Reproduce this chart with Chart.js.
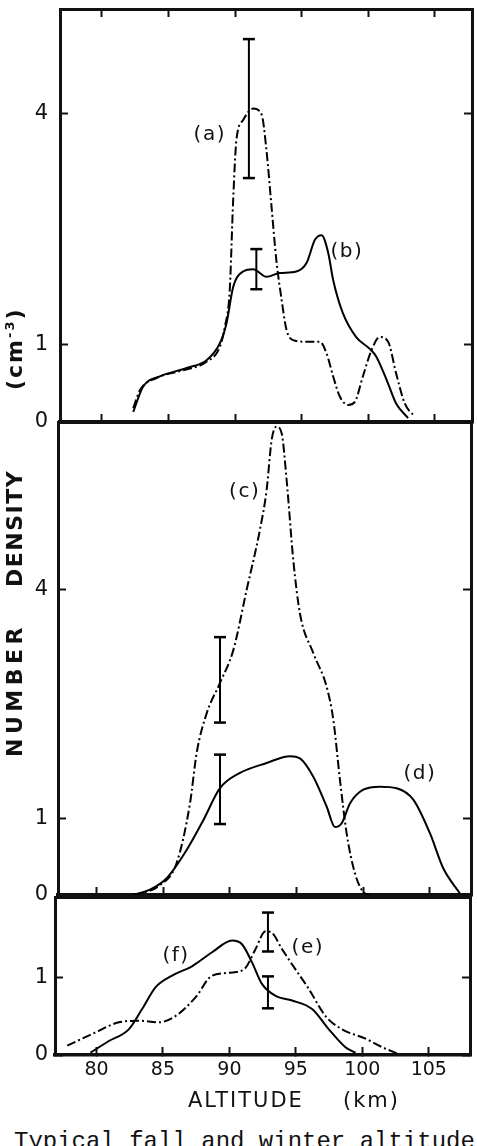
<!DOCTYPE html>
<html>
<head>
<meta charset="utf-8">
<script src="https://cdn.jsdelivr.net/npm/chart.js@4.4.1/dist/chart.umd.min.js"></script>
<style>
  body { margin: 0; background: #fff; width: 477px; height: 1146px; overflow: hidden; position: relative; }
  canvas { position: absolute; left: 0; }
  .txt { position: absolute; white-space: pre; color: #111; }
  #ytitle { left: 4px; top: 757px; width: 460px; height: 22px; transform-origin: 0 0; transform: rotate(-90deg);
            font: bold 22px "DejaVu Sans"; line-height: 22px; }
  #ytitle span { position: absolute; top: 0; }
  #ytitle sup { font-size: 13px; vertical-align: 8px; line-height: 0; }
  .xt { top: 1090px; font: 21px "DejaVu Sans"; line-height: 21px; letter-spacing: 2px; }
  #caption { left: 14px; top: 1130px; font: 24px "Liberation Mono"; line-height: 24px; }
</style>
</head>
<body>
<canvas id="panelA" width="477" height="440" style="top:0px"></canvas>
<canvas id="panelB" width="477" height="500" style="top:410px"></canvas>
<canvas id="panelC" width="477" height="210" style="top:880px"></canvas>

<div class="txt" id="ytitle"><span style="left:0px;letter-spacing:4.5px">NUMBER</span><span style="left:170px;letter-spacing:1.5px">DENSITY</span><span style="left:367px;letter-spacing:2px">(cm<sup>-3</sup>)</span></div>
<div class="txt xt" style="left:188px">ALTITUDE</div>
<div class="txt xt" style="left:343px">(km)</div>
<div class="txt" id="caption">Typical fall and winter altitude</div>

<script>
// tick values
var altTicks = [80, 85, 90, 95, 100, 105];
var densTicksA = [0, 1, 4];
var densTicksB = [0, 1, 4];
var densTicksC = [0, 1];

// panel 1: curve (a) dash-dot, curve (b) solid  (altitude km / density cm-3)
var altA  = [82.35, 82.85, 84.1, 86.1, 87.86, 88.86, 89.23, 89.6, 89.86, 90.1, 90.6, 91.36, 92.0, 92.36, 92.74, 93.1, 93.5, 93.87, 94.36, 95.37, 96.37, 96.87, 97.37, 97.87, 98.5, 99.0, 99.6, 100.25, 100.87, 101.5, 102.1, 102.75, 103.5];
var densA = [0.18, 0.41, 0.57, 0.67, 0.78, 0.975, 1.23, 1.71, 2.88, 3.65, 3.91, 4.06, 3.98, 3.52, 2.79, 2.10, 1.58, 1.19, 1.06, 1.04, 1.04, 0.89, 0.59, 0.33, 0.22, 0.26, 0.59, 0.93, 1.10, 1.04, 0.63, 0.24, 0.07];
var altB  = [82.35, 83.1, 84.35, 86.36, 87.86, 88.86, 89.36, 89.86, 90.6, 91.36, 92.36, 93.36, 94.6, 95.37, 96.0, 96.5, 97.0, 97.37, 98.1, 99.1, 100.1, 100.6, 101.4, 102.1, 103.0];
var densB = [0.13, 0.46, 0.59, 0.70, 0.80, 1.02, 1.28, 1.75, 1.95, 1.98, 1.88, 1.93, 1.95, 2.06, 2.36, 2.42, 2.19, 1.84, 1.41, 1.10, 0.95, 0.85, 0.54, 0.24, 0.05];

// panel 2: curve (c) dash-dot, curve (d) solid
var altC  = [82.75, 84.75, 86.0, 87.0, 87.5, 88.25, 89.25, 90.25, 91.25, 92.25, 92.75, 93.13, 93.5, 93.88, 94.25, 94.75, 95.25, 96.25, 97.25, 97.75, 98.25, 98.75, 99.38, 100.0, 100.5];
var densC = [0, 0.13, 0.42, 1.20, 1.86, 2.38, 2.78, 3.21, 4.0, 4.79, 5.31, 5.97, 6.14, 6.05, 5.44, 4.39, 3.69, 3.17, 2.73, 2.30, 1.51, 0.81, 0.28, 0.04, 0];
var altD  = [82.75, 84.0, 85.25, 86.75, 88.0, 89.25, 90.75, 92.75, 94.5, 95.25, 96.25, 97.25, 97.88, 98.38, 99.0, 100.0, 101.25, 102.5, 103.75, 105.0, 106.0, 107.25];
var densD = [0, 0.07, 0.22, 0.59, 0.98, 1.40, 1.60, 1.73, 1.82, 1.79, 1.55, 1.16, 0.89, 0.94, 1.20, 1.38, 1.42, 1.40, 1.25, 0.81, 0.35, 0.02];

// panel 3: curve (e) dash-dot, curve (f) solid
var altE  = [77.8, 79.67, 81.68, 83.18, 84.69, 85.94, 87.45, 88.7, 90.2, 91.21, 91.96, 92.72, 93.2, 93.96, 94.97, 95.97, 97.23, 98.48, 100.24, 101.5, 102.75];
var densE = [0.12, 0.27, 0.42, 0.44, 0.42, 0.50, 0.74, 1.02, 1.06, 1.12, 1.36, 1.59, 1.57, 1.36, 1.10, 0.85, 0.50, 0.33, 0.21, 0.10, 0.01];
var altF  = [79.55, 80.93, 82.43, 83.43, 84.44, 85.69, 87.19, 88.7, 90.2, 90.96, 91.7, 92.46, 93.47, 94.72, 96.22, 97.48, 98.73, 99.49];
var densF = [0.03, 0.18, 0.33, 0.59, 0.87, 1.02, 1.14, 1.32, 1.47, 1.42, 1.19, 0.91, 0.76, 0.70, 0.59, 0.33, 0.10, 0.03];

// error bars (altitude, low, high)
var barsA = [{x: 91.04, lo: 3.16, hi: 4.96}, {x: 91.6, lo: 1.72, hi: 2.24}];
var barsB = [{x: 89.25, lo: 2.26, hi: 3.38}, {x: 89.25, lo: 0.93, hi: 1.84}];
var barsC = [{x: 92.9, lo: 1.33, hi: 1.83}, {x: 92.9, lo: 0.60, hi: 1.01}];

// curve labels (altitude, density where the label sits)
var notesA = [{text: '(a)', x: 88.1, y: 3.72}, {text: '(b)', x: 98.4, y: 2.20}];
var notesB = [{text: '(c)', x: 91.1, y: 5.29}, {text: '(d)', x: 104.25, y: 1.59}];
var notesC = [{text: '(f)', x: 85.98, y: 1.28}, {text: '(e)', x: 95.9, y: 1.38}];

var INK = '#111';

// draws the (a)..(f) tags at data positions
var curveNotes = {
	id: 'curveNotes',
	afterDatasetsDraw: function(chart, args, opts) {
		var ctx = chart.ctx, x = chart.scales.x, y = chart.scales.y;
		ctx.save();
		ctx.font = '20px "DejaVu Sans"';
		ctx.letterSpacing = '1.5px';
		ctx.fillStyle = INK;
		ctx.textAlign = 'center';
		ctx.textBaseline = 'middle';
		(opts.items || []).forEach(function(n){
			ctx.fillText(n.text, x.getPixelForValue(n.x), y.getPixelForValue(n.y));
		});
		ctx.restore();
	}
};

function setTicks(vals) {
	return function(scale){ scale.ticks = vals.map(function(v){ return {value: v}; }); };
}

// fixed axis size, and no extra label padding pushed into the layout
function fixSize(dim, size) {
	return function(s){
		s[dim] = size;
		s.paddingTop = s.paddingBottom = s.paddingLeft = s.paddingRight = 0;
	};
}

function points(alt, dens) {
	return alt.map(function(a, i){ return {x: a, y: dens[i]}; });
}

function makePanel(id, h, frame, xMin, xMax, yMax, yTicks, curves, bars, notes, topTicks, xLabels) {
	var datasets = curves.map(function(c){
		return {
			data: points(c.alt, c.dens),
			borderColor: '#000', borderWidth: 2,
			borderDash: c.dashed ? [9, 3, 2, 3] : [],
			pointRadius: 0, cubicInterpolationMode: 'monotone', fill: false
		};
	});
	bars.forEach(function(b){
		datasets.push({
			data: [{x: b.x, y: b.lo}, {x: b.x, y: b.hi}],
			borderColor: '#000', borderWidth: 2,
			pointStyle: 'line', pointRadius: 6, pointBorderWidth: 2.5,
			pointBorderColor: '#000', pointBackgroundColor: '#000'
		});
	});

	var inward = {display: true, drawOnChartArea: false, drawTicks: true, tickLength: -8, tickWidth: 2, tickColor: INK};
	var edge = {display: true, width: 3, color: INK};

	return new Chart(document.getElementById(id), {
		type: 'line',
		data: {datasets: datasets},
		plugins: [curveNotes],
		options: {
			responsive: false, animation: false, devicePixelRatio: 1,
			layout: {padding: 0, autoPadding: false},
			plugins: {legend: {display: false}, tooltip: {enabled: false}, curveNotes: {items: notes}},
			scales: {
				x: {
					type: 'linear', position: 'bottom', min: xMin, max: xMax,
					afterBuildTicks: setTicks(altTicks),
					afterFit: fixSize('height', h - frame.bottom),
					ticks: {display: xLabels, padding: 12, color: INK, font: {family: 'DejaVu Sans', size: 19}},
					grid: inward, border: {display: true, width: 3.5, color: INK}
				},
				xTop: {
					type: 'linear', position: 'top', min: xMin, max: xMax,
					afterBuildTicks: setTicks(altTicks),
					afterFit: fixSize('height', frame.top),
					ticks: {display: false},
					grid: Object.assign({}, inward, {drawTicks: topTicks}), border: edge
				},
				y: {
					type: 'linear', position: 'left', min: 0, max: yMax,
					afterBuildTicks: setTicks(yTicks),
					afterFit: fixSize('width', frame.left),
					ticks: {padding: frame.left + 8 - 48, color: INK, font: {family: 'DejaVu Sans', size: 21}},
					grid: inward, border: edge
				},
				yRight: {
					type: 'linear', position: 'right', min: 0, max: yMax,
					afterBuildTicks: setTicks(yTicks),
					afterFit: fixSize('width', 477 - frame.right),
					ticks: {display: false},
					grid: inward, border: edge
				}
			}
		}
	});
}

makePanel('panelA', 440, {left: 60, right: 472, top: 9, bottom: 422}, 76.85, 107.8, 5.35, densTicksA,
	[{alt: altA, dens: densA, dashed: true}, {alt: altB, dens: densB, dashed: false}], barsA, notesA, true, false);

makePanel('panelB', 500, {left: 58, right: 471, top: 12, bottom: 485}, 77.1, 108.08, 6.2, densTicksB,
	[{alt: altC, dens: densC, dashed: true}, {alt: altD, dens: densD, dashed: false}], barsB, notesB, false, false);

makePanel('panelC', 210, {left: 55, right: 470, top: 17, bottom: 175}, 76.88, 108.1, 2.03, densTicksC,
	[{alt: altE, dens: densE, dashed: true}, {alt: altF, dens: densF, dashed: false}], barsC, notesC, false, true);
</script>
</body>
</html>
